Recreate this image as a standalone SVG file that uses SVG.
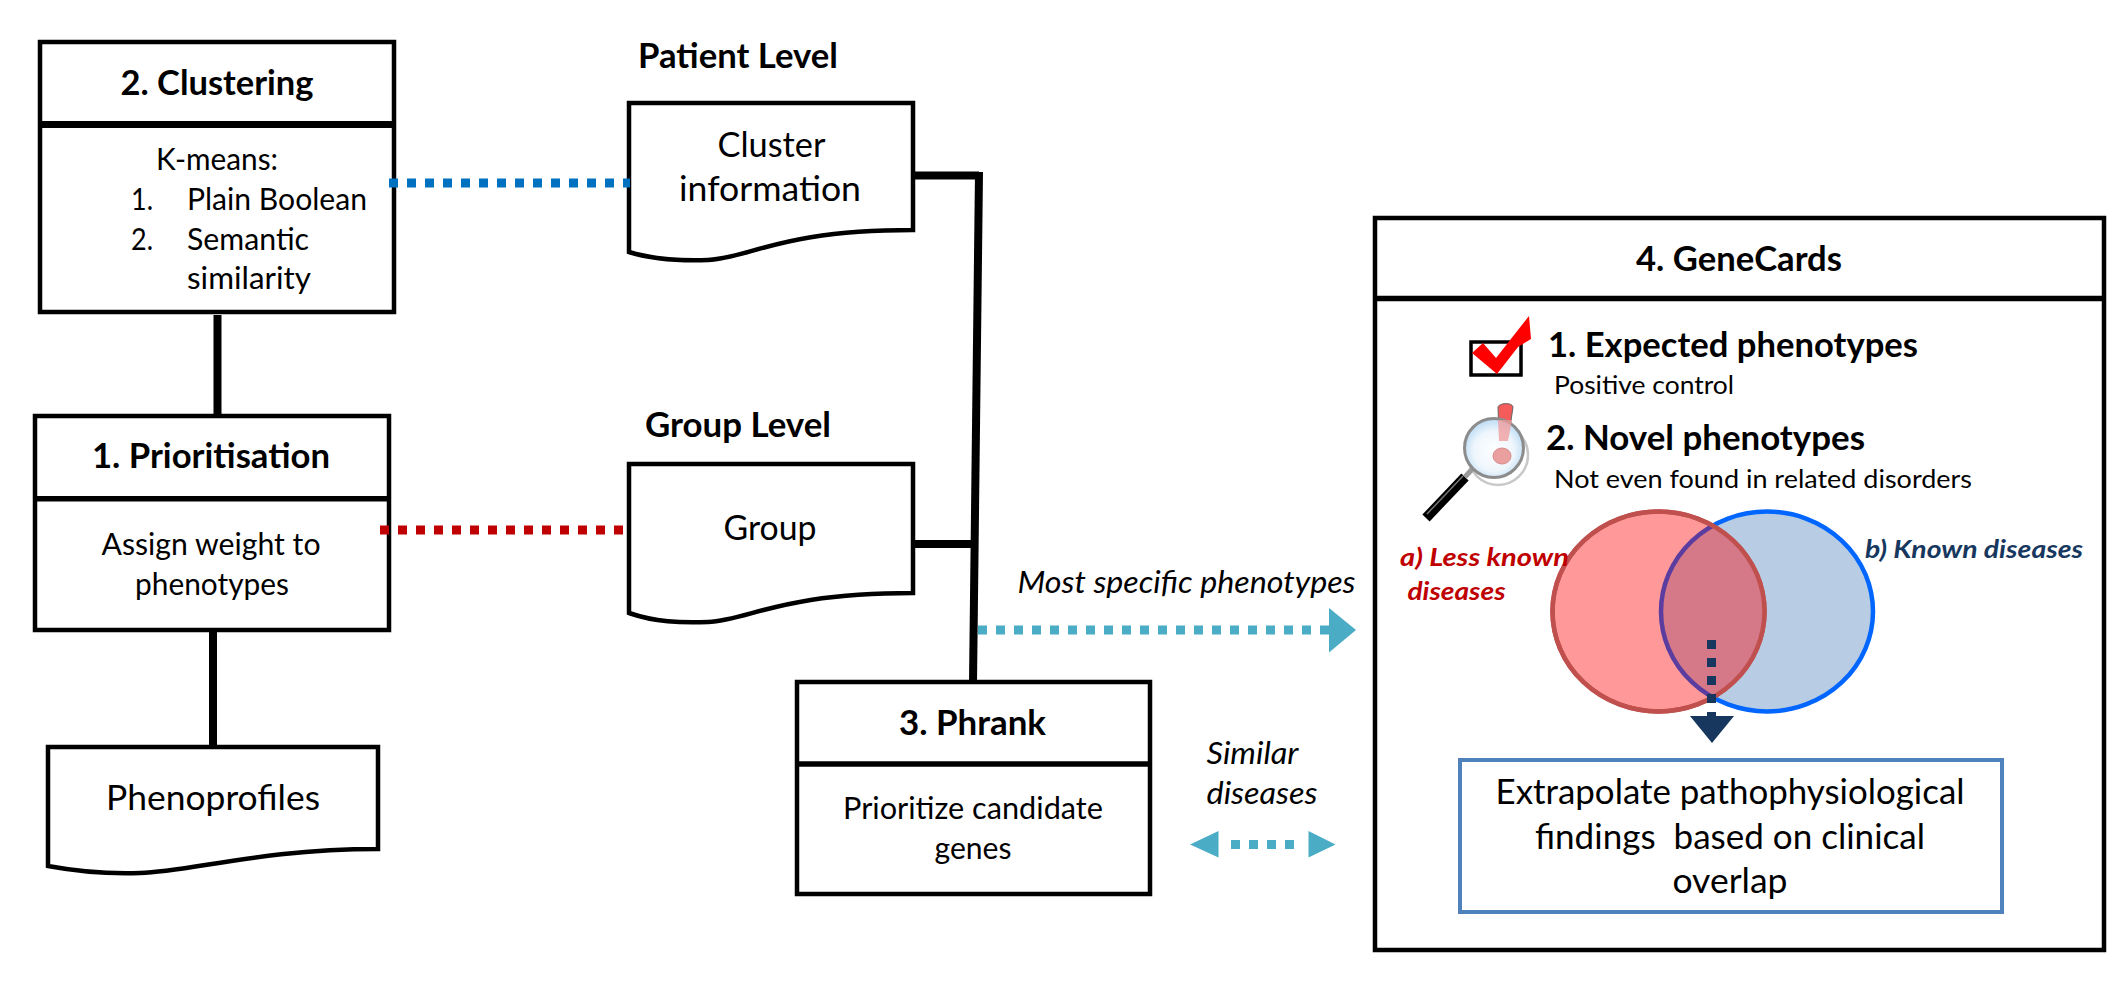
<svg xmlns="http://www.w3.org/2000/svg" width="2126" height="992" viewBox="0 0 2126 992">
<style>
text{font-family:"Lato","Carlito","Liberation Sans",sans-serif;fill:#000;white-space:pre}
.m{text-anchor:middle}
.b{font-weight:700}
.i{font-style:italic}
.t{font-size:34px;font-weight:700}
.body{font-size:30px}
.big{font-size:34px}
.small{font-size:25px}
.lab{font-size:31px;font-style:italic}
.box{fill:#fff;stroke:#000;stroke-width:4.5}
.hdr{fill:none;stroke:#000;stroke-width:5.5}
.sol{fill:none;stroke:#000;stroke-width:8}
.dot{fill:none;stroke-width:9;stroke-dasharray:9 9}
</style>
<defs>
<clipPath id="redClip"><ellipse cx="1658.5" cy="611.5" rx="106" ry="100"/></clipPath>
<radialGradient id="lens" cx="50%" cy="55%" r="55%"><stop offset="0" stop-color="#ffffff"/><stop offset="0.62" stop-color="#eef6fc"/><stop offset="1" stop-color="#b9daf4"/></radialGradient>
</defs>
<rect width="2126" height="992" fill="#fff"/>
<g id="node-clustering">
<rect class="box" x="40" y="42" width="354" height="270"/>
<path fill="none" stroke="#000" stroke-width="7" d="M40 124.500H394"/>
<text class="t m" x="217" y="95" textLength="193" lengthAdjust="spacingAndGlyphs">2. Clustering</text>
<text class="body m" x="217" y="170" textLength="122" lengthAdjust="spacingAndGlyphs">K-means:</text>
<text class="body" x="131" y="210" textLength="22" lengthAdjust="spacingAndGlyphs">1.</text>
<text class="body" x="187" y="210" textLength="180" lengthAdjust="spacingAndGlyphs">Plain Boolean</text>
<text class="body" x="131" y="250" textLength="22" lengthAdjust="spacingAndGlyphs">2.</text>
<text class="body" x="187" y="250" textLength="122" lengthAdjust="spacingAndGlyphs">Semantic</text>
<text class="body" x="187" y="289" textLength="124" lengthAdjust="spacingAndGlyphs">similarity</text>
</g>
<g id="node-prioritisation">
<rect class="box" x="35" y="416" width="354" height="214"/>
<path class="hdr" d="M35 498.700H389"/>
<text class="t m" x="211" y="468" textLength="238" lengthAdjust="spacingAndGlyphs">1. Prioritisation</text>
<text class="body m" x="211" y="555" textLength="219" lengthAdjust="spacingAndGlyphs">Assign weight to</text>
<text class="body m" x="212" y="595" textLength="154" lengthAdjust="spacingAndGlyphs">phenotypes</text>
</g>
<g id="node-patient-level">
<text class="t" x="638" y="68" textLength="200" lengthAdjust="spacingAndGlyphs">Patient Level</text>
<path class="box" d="M629 103H913V230C780 230 750 258 708 260C680 261 655 260 629 252Z"/>
<text class="big m" x="771.500" y="157" textLength="108" lengthAdjust="spacingAndGlyphs">Cluster</text>
<text class="big m" x="770" y="201" textLength="182" lengthAdjust="spacingAndGlyphs">information</text>
</g>
<g id="node-group-level">
<text class="t" x="645" y="437" textLength="186" lengthAdjust="spacingAndGlyphs">Group Level</text>
<path class="box" d="M629 464H913V593C780 593 750 620 708 622C680 623 655 622 629 613Z"/>
<text class="big m" x="770" y="540" textLength="93" lengthAdjust="spacingAndGlyphs">Group</text>
</g>
<g id="node-phenoprofiles">
<path class="box" d="M48 747H378V849C260 849 190 872 140 873C110 874 80 872 48 866Z"/>
<text class="big m" x="213" y="810" textLength="214" lengthAdjust="spacingAndGlyphs">Phenoprofiles</text>
</g>
<g id="node-phrank">
<rect class="box" x="797" y="682" width="353" height="212"/>
<path class="hdr" d="M797 764H1150"/>
<text class="t m" x="972.500" y="735" textLength="147" lengthAdjust="spacingAndGlyphs">3. Phrank</text>
<text class="body m" x="973" y="819" textLength="260" lengthAdjust="spacingAndGlyphs">Prioritize candidate</text>
<text class="body m" x="973" y="859" textLength="77" lengthAdjust="spacingAndGlyphs">genes</text>
</g>
<g id="node-genecards">
<rect class="box" x="1375" y="218" width="729" height="732"/>
<path class="hdr" d="M1375 298.500H2104"/>
<text class="t m" x="1739" y="271" textLength="206" lengthAdjust="spacingAndGlyphs">4. GeneCards</text>
<rect x="1471" y="342" width="50" height="33" fill="none" stroke="#000" stroke-width="3.500"/>
<polygon fill="#f00" points="1472,353 1483,343 1496,358 1529,316 1531,339 1518,347 1497,374"/>
<text class="t" x="1548" y="356.500" textLength="370" lengthAdjust="spacingAndGlyphs">1. Expected phenotypes</text>
<text class="small" x="1554" y="394" textLength="180" lengthAdjust="spacingAndGlyphs">Positive control</text>
<circle cx="1498" cy="455" r="30" fill="#fff" stroke="#c8c8c8" stroke-width="2.500"/>
<path d="M1498 407C1499 403 1512 402 1513 407L1508 441H1499Z" fill="#f45b5b" stroke="#666" stroke-width="1"/>
<path stroke="#000" stroke-width="10" fill="none" d="M1465 477L1426 518"/>
<path stroke="#777" stroke-width="1.500" fill="none" d="M1463 476L1427 514"/>
<path stroke="#9a9a9a" stroke-width="5" fill="none" d="M1474 467L1465 477"/>
<circle cx="1494" cy="448" r="29.500" fill="url(#lens)" stroke="#8c8c8c" stroke-width="3"/>
<path d="M1498 420L1512 420L1508 441H1499Z" fill="#f09a9a" opacity=".75"/>
<ellipse cx="1502" cy="456" rx="9" ry="8" fill="#eba0a0" stroke="#d98c8c" stroke-width="1"/>
<text class="t" x="1546" y="450" textLength="319" lengthAdjust="spacingAndGlyphs">2. Novel phenotypes</text>
<text class="small" x="1554" y="488" textLength="418" lengthAdjust="spacingAndGlyphs">Not even found in related disorders</text>
<g id="venn">
<ellipse cx="1767" cy="611.500" rx="106" ry="100" fill="#B8CCE4" stroke="#0066FF" stroke-width="4.500"/>
<ellipse cx="1658.500" cy="611.500" rx="106" ry="100" fill="#FF9999" stroke="#C0504D" stroke-width="4.500"/>
<ellipse cx="1767" cy="611.500" rx="106" ry="100" fill="#D57888" stroke="#5B3C9F" stroke-width="4.500" clip-path="url(#redClip)"/>
<ellipse cx="1658.500" cy="611.500" rx="106" ry="100" fill="none" stroke="#C0504D" stroke-width="4.500"/>
</g>
<text class="b i" font-size="25" style="fill:#C00000" x="1400" y="566" textLength="169" lengthAdjust="spacingAndGlyphs">a) Less known</text>
<text class="b i" font-size="25" style="fill:#C00000" x="1407.500" y="600" textLength="98" lengthAdjust="spacingAndGlyphs">diseases</text>
<text class="b i" font-size="25" style="fill:#17375E" x="1865" y="557.500" textLength="218" lengthAdjust="spacingAndGlyphs">b) Known diseases</text>
<rect x="1460" y="760" width="542" height="152" fill="#fff" stroke="#4F81BD" stroke-width="4"/>
<text class="big m" x="1730" y="803.500" textLength="469" lengthAdjust="spacingAndGlyphs">Extrapolate pathophysiological</text>
<text class="big m" x="1730" y="849" textLength="390" lengthAdjust="spacingAndGlyphs">findings  based on clinical</text>
<text class="big m" x="1730" y="893" textLength="115" lengthAdjust="spacingAndGlyphs">overlap</text>
</g>
<g id="connectors">
<path class="sol" d="M217.500 315V416"/>
<path class="sol" d="M213 632V747"/>
<path class="sol" d="M913 175.500H979"/>
<path class="sol" d="M913 544H975"/>
<path class="sol" d="M979 172L973 683"/>
<path class="dot" stroke="#0070C0" d="M389 183H630"/>
<path class="dot" stroke="#C00000" d="M380 530H624"/>
<path class="dot" stroke="#4BACC6" d="M978 630H1329"/>
<polygon fill="#4BACC6" points="1329,608 1356,630 1329,652.500"/>
<path class="dot" stroke="#4BACC6" d="M1231 844.500H1297"/>
<polygon fill="#4BACC6" points="1218.500,831 1190,844.500 1218.500,857.500"/>
<polygon fill="#4BACC6" points="1308.500,831 1335.500,844.500 1308.500,857.500"/>
<path class="dot" stroke="#17375E" d="M1711.500 640V716"/>
<polygon fill="#17375E" points="1690,716 1734,716 1712,743"/>
<text class="lab" x="1017.500" y="593" textLength="338" lengthAdjust="spacingAndGlyphs">Most specific phenotypes</text>
<text class="lab" x="1206.500" y="764" textLength="92" lengthAdjust="spacingAndGlyphs">Similar</text>
<text class="lab" x="1206.500" y="803.500" textLength="111" lengthAdjust="spacingAndGlyphs">diseases</text>
</g>
</svg>
